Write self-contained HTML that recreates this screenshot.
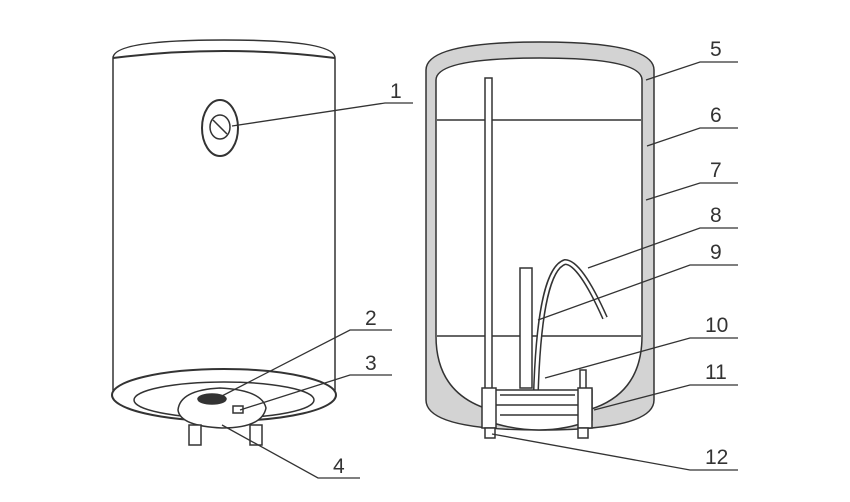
<!DOCTYPE html>
<html><head><style>body{margin:0;background:#fff}svg{display:block}text{font-family:"Liberation Sans",sans-serif;font-size:21px;fill:#333}</style></head>
<body>
<svg width="850" height="502" viewBox="0 0 850 502" stroke="#333" fill="none" stroke-width="1.5">
<!-- left tank -->
<path d="M113 58 Q113 40 224 40 Q335 40 335 58 L335 390 L113 390 Z" fill="#fff"/>
<path d="M113 58 Q224 44 335 58" stroke-width="2"/>
<ellipse cx="224" cy="395" rx="112" ry="26" fill="#fff" stroke-width="2"/>
<ellipse cx="224" cy="400" rx="90" ry="18"/>
<ellipse cx="220" cy="128" rx="18" ry="28" stroke-width="2"/>
<ellipse cx="220" cy="127" rx="10" ry="12"/>
<line x1="213" y1="120" x2="227" y2="134"/>
<path d="M178 410 Q180 390 220 388 Q262 390 266 408 Q262 428 222 428 Q180 426 178 410Z" fill="#fff"/>
<ellipse cx="212" cy="399" rx="14" ry="5" fill="#333"/>
<rect x="233" y="406" width="10" height="7"/>
<rect x="189" y="425" width="12" height="20" fill="#fff"/>
<rect x="250" y="425" width="12" height="20" fill="#fff"/>
<!-- right tank -->
<path d="M426 70 Q426 42 540 42 Q654 42 654 70 L654 400 Q654 430 540 430 Q426 430 426 400 Z" fill="#d3d3d3"/>
<path d="M436 80 Q436 58 540 58 Q642 58 642 80 L642 336 Q642 416 540 416 Q436 416 436 336 Z" fill="#fff"/>
<line x1="437" y1="120" x2="641" y2="120"/>
<line x1="437" y1="336" x2="641" y2="336"/>
<rect x="485" y="78" width="7" height="350" fill="#fff"/>
<rect x="520" y="268" width="12" height="120" fill="#fff"/>
<path d="M536 390 Q540 270 565 262 Q580 262 605 318" stroke-width="6"/>
<path d="M536 390 Q540 270 565 262 Q580 262 605 318" stroke="#fff" stroke-width="3"/>
<rect x="580" y="370" width="6" height="22"/>
<path d="M484 390 L592 390 L592 420 Q540 440 484 420 Z" fill="#fff"/>
<path d="M500 395 L575 395 M495 405 L585 405 M500 415 L580 415"/>
<rect x="482" y="388" width="14" height="40" fill="#fff"/>
<rect x="578" y="388" width="14" height="40" fill="#fff"/>
<rect x="485" y="428" width="10" height="10" fill="#fff"/>
<rect x="578" y="428" width="10" height="10" fill="#fff"/>
<!-- leaders -->
<g stroke-width="1.3">
<path d="M232 126 L385 103 L413 103"/>
<path d="M218 398 L350 330 L392 330"/>
<path d="M240 410 L350 375 L392 375"/>
<path d="M222 425 L318 478 L360 478"/>
<path d="M646 80 L700 62 L738 62"/>
<path d="M647 146 L700 128 L738 128"/>
<path d="M646 200 L700 183 L738 183"/>
<path d="M588 268 L700 228 L738 228"/>
<path d="M538 320 L690 265 L738 265"/>
<path d="M545 378 L690 338 L738 338"/>
<path d="M594 410 L690 385 L738 385"/>
<path d="M492 434 L690 470 L738 470"/>
</g>
<g stroke="none">
<text x="390" y="98">1</text>
<text x="365" y="325">2</text>
<text x="365" y="370">3</text>
<text x="333" y="473">4</text>
<text x="710" y="56">5</text>
<text x="710" y="122">6</text>
<text x="710" y="177">7</text>
<text x="710" y="222">8</text>
<text x="710" y="259">9</text>
<text x="705" y="332">10</text>
<text x="705" y="379">11</text>
<text x="705" y="464">12</text>
</g>
</svg>
</body></html>
